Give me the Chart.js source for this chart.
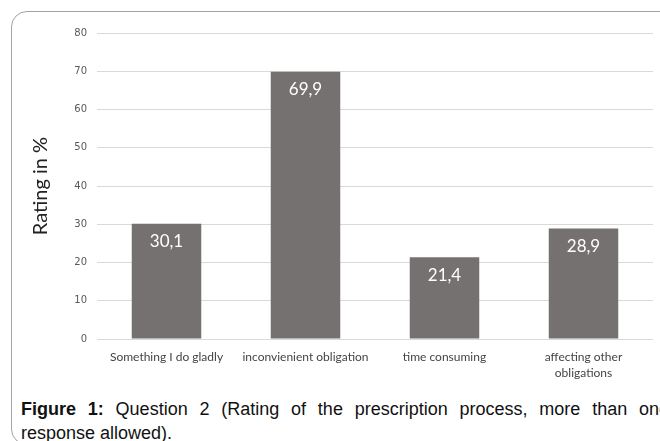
<!DOCTYPE html>
<html>
<head>
<meta charset="utf-8">
<script src="https://cdn.jsdelivr.net/npm/chart.js@4/dist/chart.umd.min.js"></script>
<style>
    html, body { margin: 0; padding: 0; background: #fff; overflow: hidden; }
    #wrap { position: relative; width: 660px; height: 441px; overflow: hidden; }
    #frame {
        position: absolute; left: 11px; top: 11px; width: 700px; height: 434px;
        border: 1.5px solid #a3a3a3; border-radius: 16px; box-sizing: border-box;
    }
    #chartBox { position: absolute; left: 0; top: 0; width: 660px; height: 385px; }
    #caption {
        position: absolute; left: 21px; top: 397px; width: 648px;
        font-family: "Liberation Sans", Arial, sans-serif; font-size: 18px;
        line-height: 24px; color: #111;
    }
    #caption .first { display: block; text-align: justify; text-align-last: justify; white-space: nowrap; }
</style>
</head>
<body>
<div id="wrap">
    <div id="frame"></div>
    <div id="chartBox"><canvas id="ratingChart"></canvas></div>
    <div id="caption"><span class="first"><b>Figure 1:</b> Question 2 (Rating of the prescription process, more than one</span>response allowed).</div>
</div>
<script>
const categories = ['Something I do gladly', 'inconvienient obligation', 'time consuming', ['affecting other', 'obligations']];
const ratings = [30.1, 69.9, 21.4, 28.9];
const yTicks = [0, 10, 20, 30, 40, 50, 60, 70, 80];

// white value labels drawn just inside the top of each bar
const valueLabels = {
    id: 'valueLabels',
    afterDatasetsDraw(chart) {
        const ctx = chart.ctx;
        const meta = chart.getDatasetMeta(0);
        ctx.save();
        ctx.fillStyle = '#ffffff';
        ctx.font = '17px Lato, "Open Sans", sans-serif';
        ctx.textAlign = 'center';
        ctx.textBaseline = 'middle';
        meta.data.forEach((bar, i) => {
            ctx.fillText(ratings[i].toFixed(1).replace('.', ','), bar.x, bar.y + 18);
        });
        ctx.restore();
    }
};

new Chart(document.getElementById('ratingChart'), {
    type: 'bar',
    data: {
        labels: categories,
        datasets: [{
            data: ratings,
            backgroundColor: '#767171',
            borderWidth: 0,
            barPercentage: 0.5,
            categoryPercentage: 1
        }]
    },
    options: {
        responsive: true,
        maintainAspectRatio: false,
        animation: false,
        layout: { padding: { top: 33, right: 7, bottom: 0, left: 0 } },
        plugins: {
            legend: { display: false },
            tooltip: { enabled: false }
        },
        scales: {
            x: {
                grid: { display: false },
                border: { display: false },
                ticks: {
                    color: '#444',
                    font: { family: 'Lato, "Open Sans", sans-serif', size: 12, lineHeight: 1.35 },
                    padding: 2,
                    maxRotation: 0
                },
                afterFit(scale) { scale.height = 46; }
            },
            y: {
                min: 0,
                max: 80,
                afterBuildTicks(scale) { scale.ticks = yTicks.map(v => ({ value: v })); },
                grid: { color: '#d9d9d9', drawTicks: false },
                border: { display: false },
                ticks: {
                    color: '#595959',
                    font: { family: '"DejaVu Sans", sans-serif', size: 10 },
                    padding: 10
                },
                title: {
                    display: true,
                    text: 'Rating in %',
                    color: '#222',
                    font: { family: 'Lato, "Open Sans", sans-serif', size: 20 },
                    padding: { top: 29, bottom: 0 }
                },
                afterFit(scale) { scale.width = 97; }
            }
        }
    },
    plugins: [valueLabels]
});
</script>
</body>
</html>
